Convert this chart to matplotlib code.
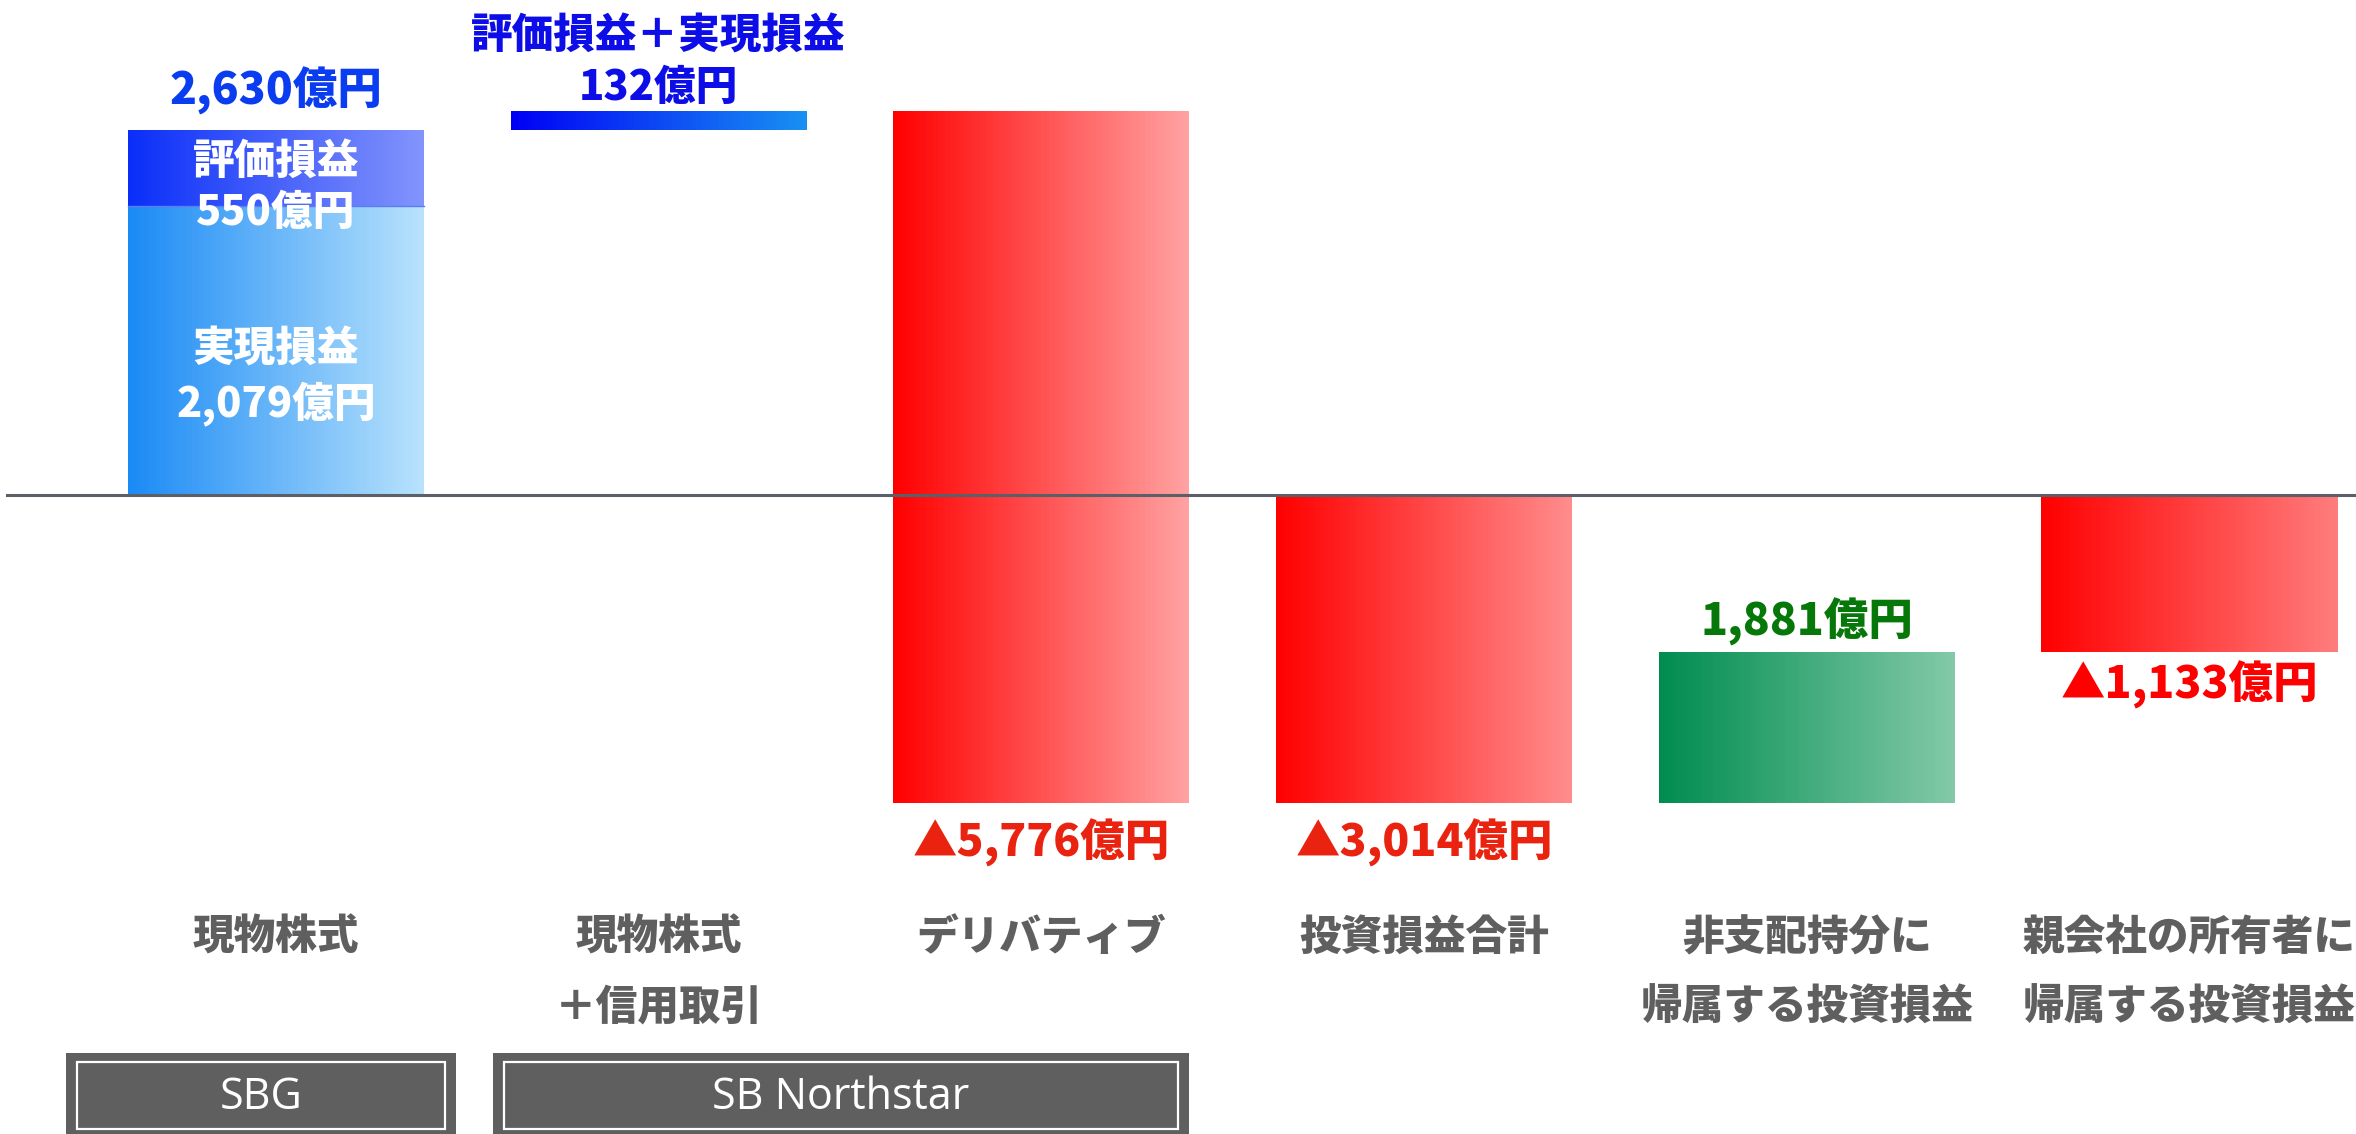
import numpy as np
import matplotlib
matplotlib.use("Agg")
import matplotlib.pyplot as plt
import matplotlib.transforms as mtransforms
from matplotlib.colors import to_rgb
from matplotlib.patches import Rectangle

plt.rcParams["font.family"] = ["Noto Sans CJK JP", "DejaVu Sans"]

# data (億円)
categories = [
    "現物株式",
    "現物株式\n＋信用取引",
    "デリバティブ",
    "投資損益合計",
    "非支配持分に\n帰属する投資損益",
    "親会社の所有者に\n帰属する投資損益",
]
changes = [2630, 132, -5776, -3014, 1881, -1133]
is_total = [False, False, False, True, False, True]
sbg_realized = 2079
sbg_unrealized = 550
value_labels = [
    "2,630億円",
    "評価損益＋実現損益\n132億円",
    "▲5,776億円",
    "▲3,014億円",
    "1,881億円",
    "▲1,133億円",
]
groups = ["SBG", "SB Northstar"]
group_members = [(0, 0), (1, 2)]

# styles
bar_colors = [
    ("#1a8af5", "#b8e2fc"),
    ("#0000f5", "#1890f2"),
    ("#ff0000", "#ffa2a2"),
    ("#ff0000", "#ff8c8c"),
    ("#008c50", "#82c9a7"),
    ("#ff0000", "#ff7c7c"),
]
unrealized_colors = ("#0a2ef8", "#8294fc")
label_colors = ["#0a3cf0", "#0d0de8", "#e9230f", "#e9230f", "#06780a", "#ff0000"]
label_offsets = [39, 49, -40, -40, 30, -33]  # pixels from bar end
gray = "#5f5f5f"

W, H = 2356, 1134
fig = plt.figure(figsize=(W / 100, H / 100), dpi=100)
ax = fig.add_axes([0, 0, 1, 1])
ax.axis("off")

# the slide squeezes the lower part of the negative range
knee, squeeze = -1133, 0.578


def fwd(v):
    v = np.asarray(v, dtype=float)
    return np.where(v >= knee, v, knee + (v - knee) * squeeze)


def inv(d):
    d = np.asarray(d, dtype=float)
    return np.where(d >= knee, d, knee + (d - knee) / squeeze)


ax.set_yscale("function", functions=(fwd, inv))
px_per_unit = 365 / 2630
base_px = 494.5
ax.set_ylim(float(inv(-(H - base_px) / px_per_unit)), base_px / px_per_unit)
step = 382.7
x0_px = 276
ax.set_xlim(-x0_px / step, (W - x0_px) / step)
bar_w = 296 / step


def gradient_bar(x, bottom, height, c0, c1, n=120):
    c0, c1 = np.array(to_rgb(c0)), np.array(to_rgb(c1))
    t = np.linspace(0, 1, n)
    cols = c0[None, :] * (1 - t[:, None]) + c1[None, :] * t[:, None]
    sw = bar_w / n
    xs = x - bar_w / 2 + sw * (np.arange(n) + 0.5)
    ax.bar(xs, height, width=sw * 1.08, bottom=bottom, color=cols,
           linewidth=0, antialiased=False, zorder=2)


# waterfall
running = 0
bottoms, tops = [], []
for i, ch in enumerate(changes):
    if is_total[i]:
        b, h = 0, ch
        running = ch
    else:
        b, h = running, ch
        running += ch
    bottoms.append(min(b, b + h))
    tops.append(max(b, b + h))
    if i == 0:
        gradient_bar(i, 0, sbg_realized, *bar_colors[0])
        gradient_bar(i, sbg_realized, sbg_unrealized, *unrealized_colors)
        ax.plot([i - bar_w / 2, i + bar_w / 2], [sbg_realized] * 2,
                color="#5a7ef0", lw=1, zorder=3)
    else:
        gradient_bar(i, b, h, *bar_colors[i])

ax.axhline(0, xmin=7 / W, xmax=1, color="#5b6068", lw=2.2, zorder=5)

# value labels
for i, lab in enumerate(value_labels):
    anchor = tops[i] if label_offsets[i] > 0 else bottoms[i]
    ax.annotate(lab, (i, anchor), xytext=(0, label_offsets[i]),
                textcoords="offset pixels", ha="center", va="center",
                fontsize=32 if i != 1 else 30, fontweight="heavy",
                color=label_colors[i], linespacing=1.3, zorder=6)

# labels inside the SBG bar
ax.annotate("評価損益\n550億円", (0, tops[0]), xytext=(0, -58),
            textcoords="offset pixels", ha="center", va="center",
            fontsize=30, fontweight="heavy", color="white", linespacing=1.3, zorder=6)
ax.annotate("実現損益\n2,079億円", (0, 0), xytext=(0, 117),
            textcoords="offset pixels", ha="center", va="center",
            fontsize=30, fontweight="heavy", color="white", linespacing=1.3, zorder=6)

# category labels
xt = mtransforms.blended_transform_factory(ax.transData, ax.transAxes)
line_y = [938, 1008]
for i, cat in enumerate(categories):
    for j, line in enumerate(cat.split("\n")):
        ax.text(i, 1 - line_y[j] / H, line, transform=xt, ha="center",
                va="center", fontsize=30, fontweight="heavy", color=gray)

# group boxes
group_spans = [(-0.549, 0.470), (0.567, 2.386)]
box_top = 1 - 1053 / H
inset_x, inset_y = 11 / step, 9 / H
for name, (l, r) in zip(groups, group_spans):
    ax.add_patch(Rectangle((l, 0), r - l, box_top, transform=xt,
                           facecolor=gray, edgecolor="none", zorder=2))
    ax.add_patch(Rectangle((l + inset_x, inset_y / 1.8), r - l - 2 * inset_x,
                           box_top - inset_y - inset_y / 1.8, transform=xt,
                           facecolor="none", edgecolor="white", lw=1.6, zorder=3))
    ax.text((l + r) / 2, 1 - 1098 / H, name, transform=xt, ha="center",
            va="center", fontsize=31, color="white", family="Open Sans", zorder=4)

fig.savefig("out.png", dpi=100)
